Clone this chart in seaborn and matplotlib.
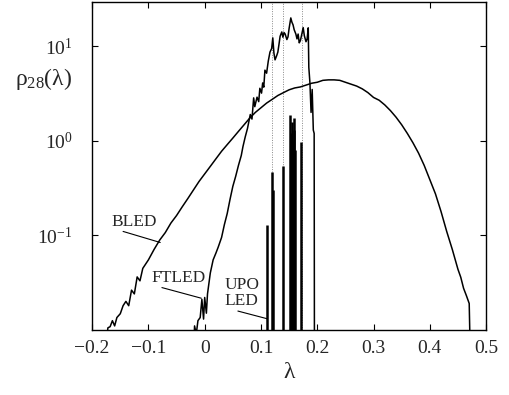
import matplotlib
matplotlib.use("Agg")
import matplotlib.pyplot as plt
import seaborn as sns
import numpy as np

# ---- data ----
bled_lam = [-0.178, -0.172, -0.168, -0.164, -0.160, -0.156, -0.150, -0.145, -0.140, -0.135, -0.130,
            -0.125, -0.120, -0.115, -0.110, -0.100, -0.090, -0.080, -0.070, -0.060, -0.050,
            -0.040, -0.030, -0.020, -0.010, 0.000, 0.010, 0.020, 0.030, 0.040, 0.050,
            0.060, 0.070, 0.080, 0.090, 0.100, 0.110, 0.120, 0.130, 0.140, 0.150,
            0.160, 0.170, 0.180, 0.190, 0.200, 0.210, 0.220, 0.230, 0.240, 0.250,
            0.260, 0.270, 0.280, 0.290, 0.300, 0.310, 0.320, 0.330, 0.340, 0.350,
            0.360, 0.370, 0.380, 0.390, 0.400, 0.410, 0.420, 0.430, 0.440, 0.450,
            0.455, 0.460, 0.465, 0.470, 0.472]
bled_rho = [0.005, 0.0105, 0.0108, 0.0125, 0.0110, 0.0135, 0.0148, 0.0180, 0.0200, 0.0180, 0.0263,
            0.0240, 0.0363, 0.0330, 0.0447, 0.055, 0.0708, 0.089, 0.107, 0.135, 0.162,
            0.200, 0.245, 0.302, 0.372, 0.447, 0.537, 0.646, 0.776, 0.912, 1.07,
            1.26, 1.48, 1.74, 2.00, 2.24, 2.51, 2.75, 3.02, 3.24, 3.47,
            3.63, 3.72, 3.89, 4.07, 4.17, 4.37, 4.42, 4.42, 4.37, 4.17,
            3.98, 3.80, 3.55, 3.24, 2.88, 2.69, 2.40, 2.09, 1.78, 1.48,
            1.20, 0.955, 0.741, 0.550, 0.389, 0.275, 0.178, 0.110, 0.0708, 0.0437,
            0.0360, 0.0275, 0.0230, 0.0190, 0.005]

ftled_lam = [-0.020, -0.018, -0.015, -0.012, -0.008, -0.005, -0.002, 0.000, 0.003, 0.005,
             0.010, 0.015, 0.020, 0.024, 0.030, 0.035, 0.040, 0.045, 0.050, 0.055,
             0.060, 0.065, 0.068, 0.072, 0.076, 0.081, 0.084, 0.087, 0.089, 0.093,
             0.096, 0.098, 0.101, 0.103, 0.105, 0.107, 0.110, 0.113, 0.116, 0.119,
             0.121, 0.123, 0.125, 0.128, 0.130, 0.132, 0.134, 0.137, 0.139, 0.141,
             0.143, 0.146, 0.148, 0.150, 0.153, 0.155, 0.157, 0.159, 0.162, 0.164,
             0.166, 0.168, 0.170, 0.172, 0.175, 0.177, 0.180, 0.182, 0.184, 0.185,
             0.187, 0.189, 0.191, 0.193, 0.1945, 0.195]
ftled_rho = [0.005, 0.011, 0.009, 0.0125, 0.0135, 0.021, 0.013, 0.022, 0.015, 0.024,
             0.040, 0.055, 0.065, 0.075, 0.095, 0.13, 0.17, 0.24, 0.33, 0.42,
             0.55, 0.70, 0.87, 1.1, 1.35, 1.9, 1.7, 2.85, 2.3, 2.9,
             2.6, 3.6, 3.2, 4.1, 3.7, 5.6, 5.2, 7.0, 8.7, 9.5,
             12.3, 8.5, 7.2, 8.0, 8.7, 10.5, 12.8, 14.2, 12.5, 14.0,
             13.5, 11.8, 12.6, 15.5, 20.0, 18.0, 16.9, 15.0, 13.5, 12.0,
             13.5, 10.9, 11.5, 13.0, 15.8, 13.0, 11.2, 12.0, 15.7, 6.0,
             4.1, 2.0, 3.5, 1.3, 1.2, 0.005]

upo_lam = [0.111, 0.119, 0.1205, 0.139, 0.152, 0.1535, 0.155, 0.1565, 0.158, 0.1595, 0.161, 0.172]
upo_rho = [0.13, 0.47, 0.30, 0.54, 1.9, 1.2, 1.6, 1.0, 1.75, 1.3, 0.8, 0.98]

upo_marks = [0.120, 0.139, 0.173]

xticks = [-0.2, -0.1, 0.0, 0.1, 0.2, 0.3, 0.4, 0.5]
xticklabels = ["\u22120.2", "\u22120.1", "0", "0.1", "0.2", "0.3", "0.4", "0.5"]
yticks = [0.1, 1, 10]
yticklabels = [r"$10^{-1}$", r"$10^{0}$", r"$10^{1}$"]

# ---- style ----
sns.set_style("ticks")
plt.rcParams["font.family"] = ["Liberation Serif", "DejaVu Serif"]
plt.rcParams["mathtext.fontset"] = "custom"
plt.rcParams["mathtext.rm"] = "Liberation Serif"
plt.rcParams["mathtext.it"] = "Liberation Serif"
plt.rcParams["mathtext.bf"] = "Liberation Serif:bold"

fig = plt.figure(figsize=(5.09, 3.95), dpi=100)
ax = fig.add_axes([0.181, 0.165, 0.774, 0.830])

for xv in upo_marks:
    ax.axvline(xv, color="#888888", lw=0.7, ls=(0, (1, 1.5)), zorder=1)

sns.lineplot(x=bled_lam, y=bled_rho, ax=ax, color="black", lw=1.1, sort=False, zorder=3)
sns.lineplot(x=ftled_lam, y=ftled_rho, ax=ax, color="black", lw=1.1, sort=False, zorder=3)
ax.vlines(upo_lam, 0.001, upo_rho, color="black", lw=1.8, zorder=3)

ax.set_yscale("log")
ax.set_xlim(-0.2, 0.5)
ax.set_ylim(0.01, 29.5)

ax.set_xticks(xticks)
ax.set_xticklabels(xticklabels)
ax.set_yticks(yticks)
ax.set_yticklabels(yticklabels)
ax.yaxis.set_minor_locator(matplotlib.ticker.NullLocator())
ax.tick_params(axis="both", which="major", direction="in", length=4, width=0.8,
               top=True, right=True, labelsize=14, color="black")
ax.tick_params(axis="x", pad=7)
ax.tick_params(axis="y", pad=14)
for s in ax.spines.values():
    s.set_visible(True)
    s.set_color("black")
    s.set_linewidth(1.0)

ax.set_xlabel("\u03bb", fontsize=17, labelpad=4)
ax.set_ylabel(r"$\rho_{28}(\lambda)$", fontsize=17, rotation=0)
ax.yaxis.set_label_coords(-0.124, 0.726)

fs = 12.5
ax.text(-0.166, 0.137, "BLED", fontsize=fs, ha="left", va="center")
ax.plot([-0.145, -0.079], [0.110, 0.084], color="black", lw=0.8)
ax.text(-0.095, 0.035, "FTLED", fontsize=fs, ha="left", va="center")
ax.plot([-0.076, -0.006], [0.028, 0.0216], color="black", lw=0.8)
ax.text(0.036, 0.0245, "UPO\nLED", fontsize=fs, ha="left", va="center", linespacing=0.95)
ax.plot([0.059, 0.111], [0.0158, 0.0131], color="black", lw=0.8)

fig.savefig("out.png", dpi=100)
